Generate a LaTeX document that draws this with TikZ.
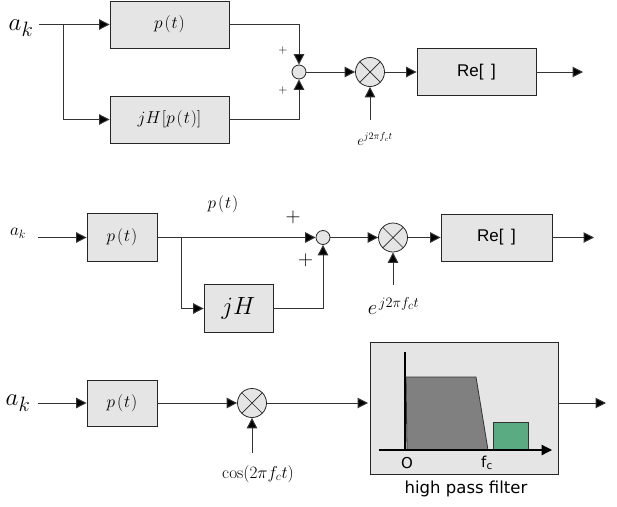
\documentclass[tikz,border=0pt]{standalone}
\usepackage{amsmath}
\usepackage{fontspec}
\setsansfont{Liberation Sans}
\newfontfamily\hpffont{DejaVu Sans}
\usepackage{xcolor}
\usetikzlibrary{arrows.meta}
\definecolor{boxgray}{gray}{0.9}
\definecolor{passgray}{gray}{0.5}
\definecolor{passgreen}{RGB}{90,170,130}
\newcommand{\fsz}[1]{\fontsize{#1}{#1}\selectfont}
\newcommand{\ptlab}{p\mkern2mu(\mkern1mu t\mkern1mu)}
\tikzset{
  blockbox/.style={draw=black!85,fill=boxgray,line width=0.9pt,inner sep=0pt},
  sumdot/.style={circle,draw=black!85,fill=boxgray,line width=0.8pt,minimum size=14pt,inner sep=0pt},
  mixer/.style={circle,draw=black!85,fill=boxgray,line width=0.8pt,minimum size=29pt,inner sep=0pt,
    path picture={\draw[line width=0.7pt] (path picture bounding box.45) -- (path picture bounding box.225)
      (path picture bounding box.135) -- (path picture bounding box.315);}},
  sig/.style={line width=1pt,draw=black!80,-{Triangle[length=10.5pt,width=10.5pt,fill=black]}},
  wire/.style={line width=1pt,draw=black!80}
}
\begin{document}
\begin{tikzpicture}[x=1pt,y=-1pt]
\useasboundingbox (0,0) rectangle (617,506);
% top row
\node (ak1) at (21,28) {\fsz{24.88}$a_k$};
\coordinate (in1) at (39,24.5);
\coordinate (fork1) at (63,24.5);
\node[blockbox,minimum width=119pt,minimum height=47pt] (pt1) at (169.5,24.5) {\fsz{17.28}$\ptlab$};
\node[blockbox,minimum width=119pt,minimum height=47pt] (jh1) at (169.5,119.5) {\fsz{17.28}$jH\mkern1mu[\ptlab]$};
\node[sumdot] (sum1) at (299,72) {};
\node[mixer] (mix1) at (370,72) {};
\node[blockbox,minimum width=119pt,minimum height=47pt] (re1) at (476.5,72) {\sffamily\fsz{17}Re[\;\,]\hspace{8pt}};
\node (plusa) at (283,50) {\fsz{12}$+$};
\node (plusb) at (283,90) {\fsz{12}$+$};
\node (exp1) at (375,139) {\fsz{14.4}$e^{j2\pi f_c t}$};
\coordinate (lo1) at (370,120);
\coordinate (out1) at (583,72);
\draw[sig] (in1) -- (pt1.west);
\draw[sig] (fork1) |- (jh1.west);
\draw[sig] (pt1.east) -| (sum1.north);
\draw[sig] (jh1.east) -| (sum1.south);
\draw[sig] (sum1) -- (mix1);
\draw[sig] (mix1) -- (re1.west);
\draw[sig] (lo1) -- (mix1);
\draw[sig] (re1.east) -- (out1);

% middle row
\node (ak2) at (18,233) {\fsz{17.28}$a_k$};
\coordinate (in2) at (38,237.5);
\coordinate (fork2) at (181,237.5);
\node[blockbox,minimum width=70pt,minimum height=48pt] (pt2) at (122,237.5) {\fsz{17.28}$\ptlab$};
\node[blockbox,minimum width=69pt,minimum height=48pt] (jh2) at (238.5,308.5) {\fsz{24.88}$jH$};
\node (lab2) at (223,204) {\fsz{17.28}$\ptlab$};
\node[sumdot] (sum2) at (323,237.5) {};
\node[mixer] (mix2) at (393,237.5) {};
\node[blockbox,minimum width=111pt,minimum height=47pt] (re2) at (496.5,237.5) {\sffamily\fsz{17}Re[\;\,]\hspace{7pt}};
\node (plusc) at (293,217) {\fsz{20.74}$+$};
\node (plusd) at (305.5,260) {\fsz{20.74}$+$};
\node (exp2) at (393.5,306) {\fsz{20.74}$e^{\mkern2mu j2\pi f_c t}$};
\coordinate (lo2) at (393,285);
\coordinate (out2) at (594,237.5);
\draw[sig] (in2) -- (pt2.west);
\draw[sig] (pt2.east) -- (sum2.west);
\draw[sig] (fork2) |- (jh2.west);
\draw[sig] (jh2.east) -| (sum2.south);
\draw[sig] (sum2) -- (mix2);
\draw[sig] (mix2) -- (re2.west);
\draw[sig] (lo2) -- (mix2);
\draw[sig] (re2.east) -- (out2);

% bottom row
\node (ak3) at (18,403) {\fsz{24.88}$a_k$};
\coordinate (in3) at (38,403);
\node[blockbox,minimum width=70pt,minimum height=46pt] (pt3) at (122,403) {\fsz{17.28}$\ptlab$};
\node[mixer] (mix3) at (252,403) {};
\node (cos3) at (258,474) {\fsz{17.28}$\cos(2\pi f_c t)$};
\coordinate (lo3) at (252,453);
\node[blockbox,minimum width=188pt,minimum height=132pt] (hpf) at (464,408) {};
\coordinate (hin) at (368,403);
\coordinate (hout) at (558,403);
\coordinate (out3) at (606,403);
\draw[sig] (in3) -- (pt3.west);
\draw[sig] (pt3.east) -- (mix3);
\draw[sig] (lo3) -- (mix3);
\draw[sig] (mix3) -- (hin);
\draw[sig] (hout) -- (out3);

% filter
\draw[fill=passgray,draw=black!80,line width=0.8pt] (406,377) -- (476,377) -- (488,450) -- (407,450) -- cycle;
\draw[fill=passgreen,draw=black!80,line width=0.8pt] (493,422) rectangle (528,450);
\coordinate (vtop) at (405,352);
\coordinate (vbot) at (405,450);
\coordinate (hleft) at (379,450);
\coordinate (hright) at (552,450);
\draw[wire,draw=black,line width=1.2pt] (vtop) -- (vbot);
\draw[sig,draw=black,line width=1.2pt] (hleft) -- (hright);
\node (zero) at (407,463) {\hpffont\fsz{15}O};
\node (fc) at (487,463) {\hpffont\fsz{15}f\textsubscript{c}};
\node (hpflab) at (466,489) {\hpffont\fsz{16.5}high pass filter};
\end{tikzpicture}
\end{document}
